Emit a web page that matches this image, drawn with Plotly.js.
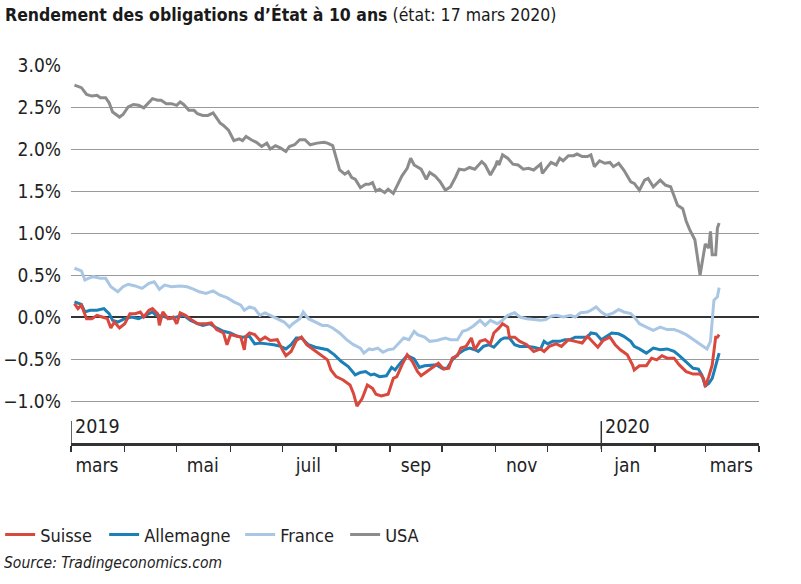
<!DOCTYPE html>
<html>
<head>
<meta charset="utf-8">
<script src="https://cdn.plot.ly/plotly-3.0.1.min.js"></script>
<style>html,body{margin:0;padding:0;background:#fff;}#chart{width:801px;height:584px;}</style>
</head>
<body>
<div id="chart"></div>
<script>
// Day offsets counted from this start date
const startDate = '2019-03-01';

const usaDays = [2,6,9,12,15,17,20,22,24,28,30,33,36,39,42,45,47,50,52,55,58,61,63,65,68,71,73,76,79,82,84,86,88,91,94,97,99,101,104,107,110,113,115,118,121,124,126,129,132,135,138,142,146,148,151,153,155,158,160,162,164,167,170,172,174,176,178,181,183,186,188,191,194,196,198,202,205,207,210,213,216,219,222,224,227,230,233,237,239,242,245,246,247,249,252,255,258,261,264,267,271,272,275,277,280,282,284,287,290,292,295,298,300,302,305,308,311,313,316,319,323,325,328,331,333,336,340,343,346,348,350,353,355,357,360,363,365,366,368,369,370,372,373,374];
const usaVals = [2.76,2.73,2.65,2.63,2.64,2.61,2.61,2.55,2.44,2.38,2.41,2.50,2.53,2.52,2.49,2.56,2.60,2.58,2.58,2.54,2.54,2.52,2.56,2.53,2.46,2.46,2.42,2.40,2.40,2.43,2.37,2.31,2.28,2.22,2.10,2.12,2.10,2.15,2.11,2.08,2.03,2.07,2.00,2.04,2.01,1.97,2.03,2.05,2.11,2.11,2.05,2.07,2.08,2.07,2.04,1.88,1.75,1.70,1.73,1.66,1.64,1.54,1.58,1.58,1.60,1.50,1.52,1.48,1.52,1.47,1.56,1.68,1.77,1.89,1.81,1.76,1.64,1.72,1.68,1.61,1.51,1.55,1.67,1.76,1.75,1.78,1.76,1.85,1.81,1.69,1.80,1.86,1.81,1.93,1.89,1.82,1.81,1.76,1.77,1.75,1.82,1.71,1.79,1.84,1.81,1.89,1.86,1.92,1.92,1.94,1.91,1.91,1.93,1.79,1.86,1.83,1.84,1.79,1.83,1.75,1.61,1.59,1.51,1.63,1.65,1.55,1.63,1.57,1.55,1.43,1.33,1.29,1.14,1.04,0.92,0.50,0.76,0.87,0.82,1.02,0.74,0.74,1.06,1.12];

const franceDays = [2,6,8,10,13,17,20,23,27,30,33,37,41,45,48,51,54,58,63,67,71,74,78,82,86,90,94,98,100,103,106,109,112,115,119,123,126,128,132,134,137,141,145,148,151,155,159,163,167,169,172,174,177,180,183,186,189,192,195,198,200,204,207,211,216,219,223,226,229,232,236,239,242,246,249,252,256,259,263,267,271,274,277,280,284,288,291,294,298,300,303,306,309,313,316,319,323,325,328,332,336,340,344,348,351,355,359,362,365,367,369,370,371,373,374];
const franceVals = [0.58,0.55,0.44,0.46,0.48,0.46,0.46,0.36,0.30,0.36,0.39,0.37,0.34,0.40,0.42,0.33,0.38,0.36,0.37,0.36,0.33,0.30,0.28,0.31,0.26,0.23,0.18,0.14,0.08,0.12,0.10,0.02,0.05,0.02,-0.02,-0.06,-0.12,-0.08,-0.02,0.06,-0.02,-0.06,-0.10,-0.10,-0.13,-0.19,-0.27,-0.33,-0.37,-0.43,-0.38,-0.39,-0.37,-0.42,-0.39,-0.38,-0.31,-0.25,-0.27,-0.17,-0.21,-0.24,-0.29,-0.28,-0.25,-0.27,-0.27,-0.17,-0.15,-0.11,-0.04,-0.10,-0.04,-0.08,-0.04,0.02,0.05,0.00,-0.02,-0.03,-0.04,-0.03,0.01,0.02,0.00,0.02,0.00,0.05,0.06,0.08,0.12,0.06,0.02,0.05,0.09,0.06,0.04,0.00,-0.08,-0.12,-0.16,-0.12,-0.15,-0.15,-0.17,-0.21,-0.27,-0.31,-0.35,-0.38,-0.29,-0.08,0.20,0.24,0.35];

const germanyDays = [2,6,8,11,15,19,22,24,27,31,35,39,43,47,49,53,57,61,65,69,73,76,80,84,88,92,96,99,103,106,109,113,117,121,124,127,130,133,137,141,145,148,152,156,160,164,167,170,173,175,178,182,185,187,190,194,198,201,204,208,211,214,217,220,224,227,230,233,235,238,241,244,248,250,253,256,259,263,267,271,273,275,278,282,285,288,291,295,298,300,303,306,309,312,316,319,323,325,328,332,336,340,344,348,351,355,359,362,364,366,368,370,372,374];
const germanyVals = [0.18,0.15,0.06,0.08,0.08,0.10,0.04,-0.04,-0.06,-0.02,0.00,-0.02,0.02,0.06,0.02,0.01,-0.02,0.00,0.02,-0.04,-0.08,-0.10,-0.08,-0.13,-0.17,-0.19,-0.23,-0.24,-0.23,-0.32,-0.31,-0.32,-0.33,-0.35,-0.38,-0.33,-0.25,-0.25,-0.33,-0.36,-0.38,-0.39,-0.45,-0.53,-0.59,-0.69,-0.66,-0.65,-0.69,-0.68,-0.71,-0.70,-0.60,-0.63,-0.55,-0.46,-0.50,-0.60,-0.58,-0.57,-0.57,-0.61,-0.61,-0.51,-0.43,-0.39,-0.37,-0.39,-0.41,-0.35,-0.33,-0.36,-0.27,-0.25,-0.25,-0.33,-0.35,-0.35,-0.36,-0.38,-0.29,-0.32,-0.29,-0.29,-0.27,-0.27,-0.24,-0.24,-0.24,-0.19,-0.20,-0.27,-0.23,-0.19,-0.20,-0.23,-0.29,-0.35,-0.38,-0.43,-0.37,-0.39,-0.38,-0.41,-0.46,-0.54,-0.61,-0.62,-0.69,-0.82,-0.79,-0.73,-0.58,-0.43];

const swissDays = [2,4,6,9,12,15,18,21,23,25,28,31,34,37,40,42,45,47,50,51,53,56,59,61,63,66,70,73,78,81,84,88,90,92,96,98,100,101,103,106,109,112,115,119,122,124,127,130,133,136,140,144,148,150,153,157,161,163,165,168,171,174,176,179,183,186,188,191,194,197,200,202,206,209,212,215,218,220,223,225,228,231,233,236,239,242,244,247,249,252,253,256,259,263,267,271,273,276,280,283,287,291,295,298,300,304,307,311,314,317,321,324,325,328,332,335,338,341,344,348,351,355,359,363,365,366,368,370,372,373,374];
const swissVals = [0.16,0.10,0.14,-0.02,-0.02,0.02,0.00,-0.02,-0.13,-0.06,-0.13,-0.08,0.04,0.04,0.06,0.00,0.08,0.10,0.04,-0.10,0.06,-0.02,0.00,-0.08,0.05,0.02,-0.04,-0.08,-0.08,-0.07,-0.15,-0.19,-0.33,-0.21,-0.23,-0.24,-0.39,-0.23,-0.19,-0.21,-0.28,-0.24,-0.28,-0.27,-0.39,-0.46,-0.41,-0.28,-0.24,-0.33,-0.39,-0.45,-0.51,-0.63,-0.71,-0.75,-0.81,-0.91,-1.06,-0.97,-0.81,-0.85,-0.92,-0.94,-0.92,-0.73,-0.71,-0.57,-0.45,-0.53,-0.65,-0.70,-0.64,-0.59,-0.55,-0.62,-0.61,-0.49,-0.46,-0.37,-0.35,-0.25,-0.39,-0.29,-0.27,-0.32,-0.19,-0.13,-0.08,-0.12,-0.24,-0.24,-0.29,-0.33,-0.41,-0.38,-0.41,-0.35,-0.32,-0.35,-0.27,-0.29,-0.31,-0.23,-0.27,-0.36,-0.28,-0.24,-0.33,-0.39,-0.45,-0.57,-0.63,-0.58,-0.58,-0.49,-0.51,-0.46,-0.49,-0.49,-0.57,-0.65,-0.68,-0.68,-0.73,-0.83,-0.71,-0.57,-0.24,-0.24,-0.21];

const seriesNames = ['Suisse', 'Allemagne', 'France', 'USA'];
const seriesColors = ['#d9483d', '#1b7fb8', '#a9c7e5', '#8c8c8c'];
const legendWidths = [59, 91, 60, 40];

const monthStarts = ['2019-03-01','2019-04-01','2019-05-01','2019-06-01','2019-07-01','2019-08-01','2019-09-01','2019-10-01','2019-11-01','2019-12-01','2020-01-01','2020-02-01','2020-03-01','2020-04-01'];
const monthLabelDates = ['2019-03-16','2019-05-16','2019-07-16','2019-09-16','2019-11-16','2020-01-16','2020-03-16'];
const monthLabels = ['mars','mai','juil','sep','nov','jan','mars'];
const yearMarks = ['2019-03-01','2020-01-01'];
const yearLabels = ['2019','2020'];

const yTickVals = [-1, -0.5, 0, 0.5, 1, 1.5, 2, 2.5, 3];
const yTickText = ['\u22121.0%','\u22120.5%','0.0%','0.5%','1.0%','1.5%','2.0%','2.5%','3.0%'];

const FONT = '"DejaVu Sans Condensed", "Liberation Sans Narrow", "Liberation Sans", sans-serif';

function toDate(d) {
  const base = Date.parse(startDate + 'T00:00:00Z');
  return new Date(base + d * 86400000).toISOString().slice(0, 10);
}

const seriesDays = [swissDays, germanyDays, franceDays, usaDays];
const seriesVals = [swissVals, germanyVals, franceVals, usaVals];

const traces = [];
for (let i = seriesNames.length - 1; i >= 0; i--) {
  traces.push({
    type: 'scatter', mode: 'lines',
    name: seriesNames[i],
    x: seriesDays[i].map(toDate),
    y: seriesVals[i],
    line: {color: seriesColors[i], width: 3},
    legendrank: i + 1,
    legendwidth: legendWidths[i],
    hoverinfo: 'skip'
  });
}

const shapes = yearMarks.map(d => ({
  type: 'line', xref: 'x', yref: 'paper', x0: d, x1: d, y0: -0.016, y1: 0.058,
  line: {color: '#333', width: 1.5}
}));

const annotations = yearMarks.map((d, i) => ({
  xref: 'x', yref: 'paper', x: d, y: 0.043, xanchor: 'left', yanchor: 'middle',
  xshift: 2, text: yearLabels[i], showarrow: false,
  font: {family: FONT, size: 19.5, color: '#222'}
}));
annotations.push({
  xref: 'paper', yref: 'paper', x: -0.1, y: -0.317, xanchor: 'left', yanchor: 'middle',
  text: '<i>Source: Tradingeconomics.com</i>', showarrow: false,
  font: {family: FONT, size: 15.5, color: '#222'}
});

const layout = {
  width: 801, height: 584,
  margin: {l: 71, r: 42, t: 65, b: 141, autoexpand: false},
  paper_bgcolor: '#fff', plot_bgcolor: '#fff',
  font: {family: FONT, color: '#222', size: 18},
  title: {
    text: '<b>Rendement des obligations d\u2019\u00c9tat \u00e0 10 ans</b> (\u00e9tat: 17 mars 2020)',
    xref: 'container', yref: 'container', x: 5 / 801, xanchor: 'left',
    y: 1 - 15 / 584, yanchor: 'middle',
    font: {family: FONT, size: 17.5, color: '#1a1a1a'}
  },
  showlegend: true,
  legend: {
    orientation: 'h', x: -0.103, xanchor: 'left', y: -0.243, yanchor: 'middle',
    font: {family: FONT, size: 18, color: '#222'}, bgcolor: 'rgba(0,0,0,0)'
  },
  xaxis: {
    type: 'date', range: [monthStarts[0], monthStarts[monthStarts.length - 1]],
    tickmode: 'array', tickvals: monthLabelDates, ticktext: monthLabels,
    ticks: '', ticklabelstandoff: 4,
    tickfont: {family: FONT, size: 19, color: '#222'},
    showgrid: false, zeroline: false,
    showline: true, linecolor: '#333', linewidth: 2.5,
    minor: {tickmode: 'array', tickvals: monthStarts, ticks: 'outside', ticklen: 6, tickwidth: 1.5, tickcolor: '#333', showgrid: false}
  },
  yaxis: {
    range: [-1.5, 3.0], tickmode: 'array', tickvals: yTickVals, ticktext: yTickText,
    ticks: '', ticklabelstandoff: 9,
    tickfont: {family: FONT, size: 19, color: '#222'},
    showgrid: true, gridcolor: '#9a9a9a', gridwidth: 1,
    zeroline: true, zerolinecolor: '#333', zerolinewidth: 1.3,
    showline: false
  },
  shapes: shapes,
  annotations: annotations
};

Plotly.newPlot('chart', traces, layout, {displayModeBar: false, staticPlot: true});
</script>
</body>
</html>
